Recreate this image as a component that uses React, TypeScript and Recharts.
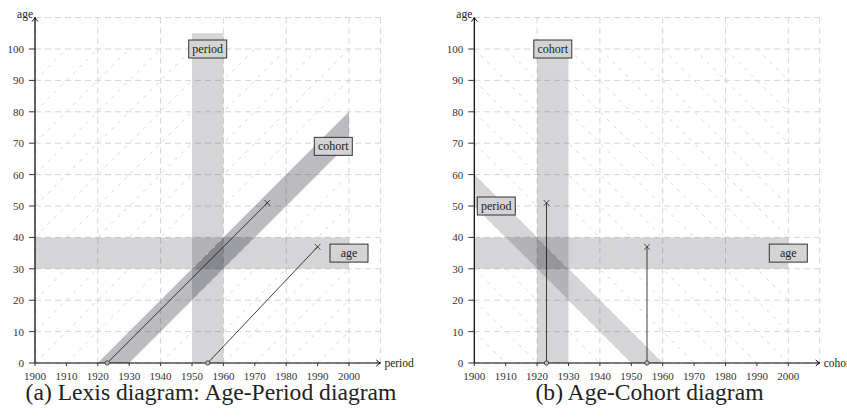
import React from 'react';
import {
  ComposedChart,
  Area,
  XAxis,
  YAxis,
  CartesianGrid,
  ReferenceArea,
  ReferenceLine,
  ReferenceDot,
} from 'recharts';

const YEAR_TICKS = [1900, 1910, 1920, 1930, 1940, 1950, 1960, 1970, 1980, 1990, 2000];
const AGE_TICKS = [0, 10, 20, 30, 40, 50, 60, 70, 80, 90, 100];

// diagonal helper lines (cohorts in panel a, periods in panel b)
const diagCohortsAP = [1810, 1820, 1830, 1840, 1850, 1860, 1870, 1880, 1890, 1900, 1910, 1920, 1930, 1940, 1950, 1960, 1970, 1980, 1990];
const diagPeriodsAC = [1910, 1920, 1930, 1940, 1950, 1960, 1970, 1980, 1990, 2000, 2010, 2020, 2030, 2040, 2050, 2060, 2070, 2080, 2090];

// shaded bands
const ageBand = { x1: 1900, x2: 2000, y1: 30, y2: 40 };
const periodBandAP = { x1: 1950, x2: 1960, y1: 0, y2: 105 };
const cohortBandAC = { x1: 1920, x2: 1930, y1: 0, y2: 100 };
const cohortBandAP = [
  { x: 1920, band: [0, 0] },
  { x: 1930, band: [0, 10] },
  { x: 2000, band: [70, 80] },
];
const periodBandAC = [
  { x: 1900, band: [50, 60] },
  { x: 1950, band: [0, 10] },
  { x: 1960, band: [0, 0] },
];

// life lines: birth (circle) -> observation (cross)
const lifeLinesAP = [
  { x1: 1923, y1: 0, x2: 1974, y2: 51 },
  { x1: 1955, y1: 0, x2: 1990, y2: 37 },
];
const lifeLinesAC = [
  { x1: 1923, y1: 0, x2: 1923, y2: 51 },
  { x1: 1955, y1: 0, x2: 1955, y2: 37 },
];

const labelsAP = [
  { text: 'period', x: 1955, y: 100 },
  { text: 'cohort', x: 1995, y: 69 },
  { text: 'age', x: 2000, y: 35 },
];
const labelsAC = [
  { text: 'cohort', x: 1925, y: 100 },
  { text: 'period', x: 1907, y: 50 },
  { text: 'age', x: 2000, y: 35 },
];

const SERIF = '"Liberation Serif", "DejaVu Serif", serif';
const BAND_FILL = '#1e1e2d';

const BoxLabel = (text: string) => (props: any) => {
  const { cx, cy } = props;
  const w = 38;
  const h = 18;
  return (
    <g>
      <rect x={cx - w / 2} y={cy - h / 2} width={w} height={h} fill="#d4d4d6" stroke="#333" strokeWidth={1} />
      <text x={cx} y={cy + 4} textAnchor="middle" style={{ fontFamily: SERIF, fontSize: 12 }} fill="#222">
        {text}
      </text>
    </g>
  );
};

const Circle = (props: any) => (
  <circle cx={props.cx} cy={props.cy} r={2.2} fill="#bbb" stroke="#333" strokeWidth={0.8} />
);

const Cross = (props: any) => {
  const { cx, cy } = props;
  const s = 2.8;
  return (
    <path d={`M${cx - s},${cy - s}L${cx + s},${cy + s}M${cx - s},${cy + s}L${cx + s},${cy - s}`} stroke="#222" strokeWidth={0.8} />
  );
};

const UpArrow = (props: any) => {
  const { cx, cy } = props;
  return (
    <g>
      <path d={`M${cx - 3},${cy + 4}Q${cx - 0.8},${cy + 1.5} ${cx},${cy}Q${cx + 0.8},${cy + 1.5} ${cx + 3},${cy + 4}`} fill="none" stroke="#000" strokeWidth={1} />
      <text x={cx - 2} y={cy} textAnchor="end" style={{ fontFamily: SERIF, fontSize: 11.5 }} fill="#222">age</text>
    </g>
  );
};

const RightArrow = (name: string) => (props: any) => {
  const { cx, cy } = props;
  return (
    <g>
      <path d={`M${cx - 4},${cy - 3}Q${cx - 1.5},${cy - 0.8} ${cx},${cy}Q${cx - 1.5},${cy + 0.8} ${cx - 4},${cy + 3}`} fill="none" stroke="#000" strokeWidth={1} />
      <text x={cx + 4} y={cy + 4} textAnchor="start" style={{ fontFamily: SERIF, fontSize: 11.5 }} fill="#222">{name}</text>
    </g>
  );
};

interface PanelProps {
  width: number;
  yAxisWidth: number;
  xName: string;
  slope: 1 | -1;
  diag: number[];
  rectBands: { x1: number; x2: number; y1: number; y2: number }[];
  diagBand: { x: number; band: number[] }[];
  diagOpacity: number;
  lifeLines: { x1: number; y1: number; x2: number; y2: number }[];
  labels: { text: string; x: number; y: number }[];
}

const diagSegment = (c: number, slope: 1 | -1) => {
  if (slope === 1) {
    const xa = Math.max(1900, c);
    const xb = Math.min(2000, c + 100);
    return [{ x: xa, y: xa - c }, { x: xb, y: xb - c }];
  }
  const xa = Math.max(1900, c - 100);
  const xb = Math.min(2000, c);
  return [{ x: xa, y: c - xa }, { x: xb, y: c - xb }];
};

const tickStyle = { fontSize: 11, fill: '#333', fontFamily: SERIF };

const Panel: React.FC<PanelProps> = ({
  width, yAxisWidth, xName, slope, diag, rectBands, diagBand, diagOpacity, lifeLines, labels,
}) => {
  const plotW = 345.4;
  return (
    <ComposedChart
      width={width}
      height={418}
      data={diagBand}
      margin={{ top: 17.6, right: width - yAxisWidth - plotW, left: 0, bottom: 25 }}
      style={{ fontFamily: SERIF }}
    >
      <CartesianGrid stroke="#d6d6d6" strokeDasharray="6 4" />
      <XAxis
        type="number"
        dataKey="x"
        domain={[1900, 2010]}
        ticks={YEAR_TICKS}
        allowDataOverflow
        height={30}
        tickSize={3}
        tickMargin={6}
        axisLine={{ stroke: '#000', strokeWidth: 1.2 }}
        tickLine={{ stroke: '#333' }}
        tick={tickStyle}
      />
      <YAxis
        type="number"
        domain={[0, 110]}
        ticks={AGE_TICKS}
        allowDataOverflow
        width={yAxisWidth}
        tickSize={6}
        tickMargin={5}
        axisLine={{ stroke: '#000', strokeWidth: 1.2 }}
        tickLine={{ stroke: '#333' }}
        tick={tickStyle}
      />
      {diag.map((c) => (
        <ReferenceLine
          key={`d${c}`}
          segment={diagSegment(c, slope)}
          stroke="#d4d4d4"
          strokeWidth={0.9}
          strokeDasharray="3.5 5.5"
          ifOverflow="visible"
        />
      ))}
      {rectBands.map((b, i) => (
        <ReferenceArea
          key={`b${i}`}
          x1={b.x1}
          x2={b.x2}
          y1={b.y1}
          y2={b.y2}
          fill={BAND_FILL}
          fillOpacity={0.19}
          stroke="none"
          ifOverflow="visible"
        />
      ))}
      <Area
        dataKey="band"
        type="linear"
        stroke="none"
        fill={BAND_FILL}
        fillOpacity={diagOpacity}
        isAnimationActive={false}
        dot={false}
        activeDot={false}
      />
      {lifeLines.map((l, i) => (
        <ReferenceLine
          key={`l${i}`}
          segment={[{ x: l.x1, y: l.y1 }, { x: l.x2, y: l.y2 }]}
          stroke="#111"
          strokeWidth={0.8}
          ifOverflow="visible"
        />
      ))}
      {lifeLines.map((l, i) => (
        <ReferenceDot key={`c${i}`} x={l.x1} y={l.y1} shape={Circle} ifOverflow="visible" />
      ))}
      {lifeLines.map((l, i) => (
        <ReferenceDot key={`x${i}`} x={l.x2} y={l.y2} shape={Cross} ifOverflow="visible" />
      ))}
      {labels.map((lb) => (
        <ReferenceDot key={lb.text} x={lb.x} y={lb.y} shape={BoxLabel(lb.text)} ifOverflow="visible" />
      ))}
      <ReferenceDot x={1900} y={110} shape={UpArrow} ifOverflow="visible" />
      <ReferenceDot x={2010} y={0} shape={RightArrow(xName)} ifOverflow="visible" />
    </ComposedChart>
  );
};

const captionStyle: React.CSSProperties = {
  position: 'absolute',
  top: 385,
  fontFamily: SERIF,
  fontSize: 23.6,
  lineHeight: '14px',
  color: '#222',
  textAlign: 'center',
  whiteSpace: 'nowrap',
};

export default function App() {
  return (
    <div style={{ position: 'absolute', left: 0, top: 0, width: 847, height: 418, background: '#fff', overflow: 'hidden', fontFamily: SERIF }}>
      <div style={{ position: 'absolute', left: 0, top: 0 }}>
        <Panel
          width={420}
          yAxisWidth={35}
          xName="period"
          slope={1}
          diag={diagCohortsAP}
          rectBands={[periodBandAP, ageBand]}
          diagBand={cohortBandAP}
          diagOpacity={0.3}
          lifeLines={lifeLinesAP}
          labels={labelsAP}
        />
      </div>
      <div style={{ position: 'absolute', left: 420, top: 0 }}>
        <Panel
          width={427}
          yAxisWidth={54.3}
          xName="cohort"
          slope={-1}
          diag={diagPeriodsAC}
          rectBands={[cohortBandAC, ageBand]}
          diagBand={periodBandAC}
          diagOpacity={0.19}
          lifeLines={lifeLinesAC}
          labels={labelsAC}
        />
      </div>
      <div style={{ ...captionStyle, left: 0, width: 422 }}>(a) Lexis diagram: Age-Period diagram</div>
      <div style={{ ...captionStyle, left: 436, width: 427 }}>(b) Age-Cohort diagram</div>
    </div>
  );
}
